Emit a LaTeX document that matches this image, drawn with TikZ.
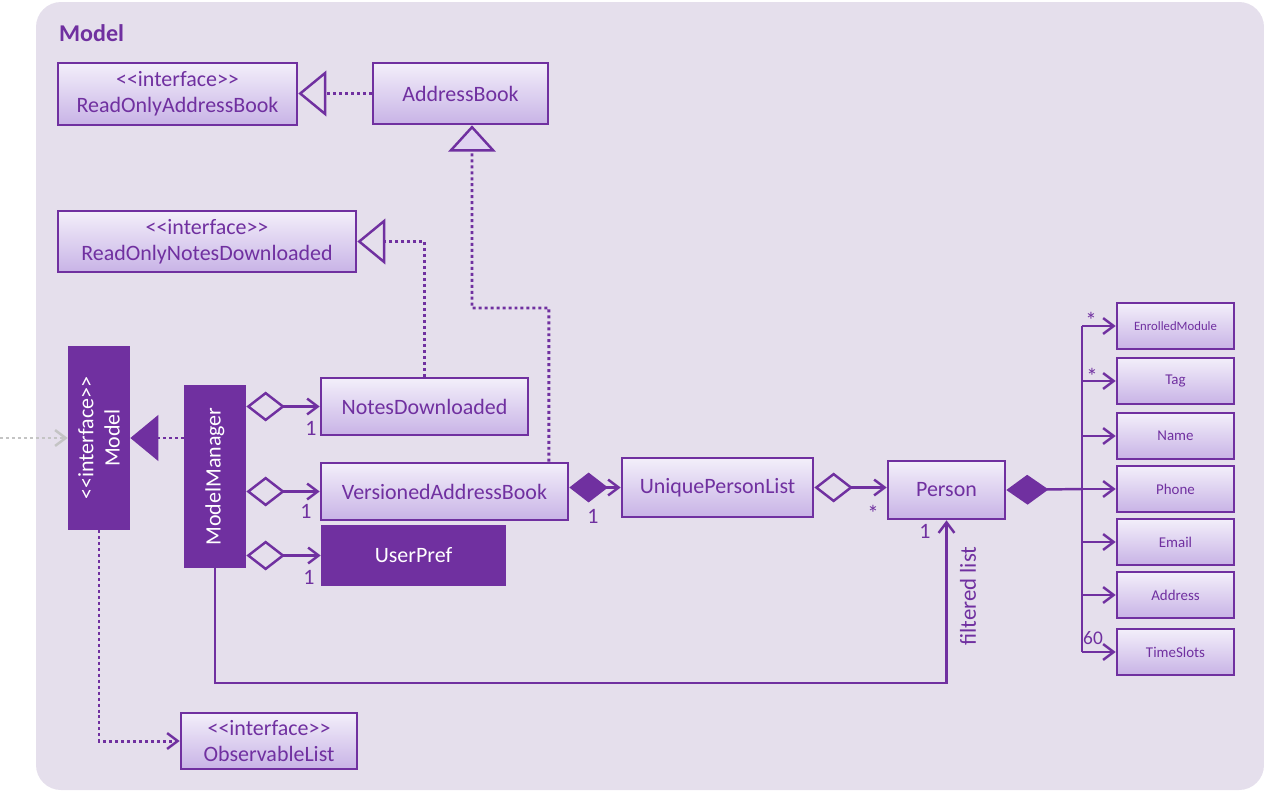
\documentclass[tikz,border=0pt]{standalone}
\usepackage{fontspec}
\setmainfont{Carlito}
\usepackage{tikz}
\usetikzlibrary{
    arrows.meta,
    calc
}
\definecolor{umlpurple}{HTML}{7030A0}
\definecolor{umlbg}{HTML}{E5DFEC}
\definecolor{boxtop}{HTML}{F3EFFA}
\definecolor{boxbottom}{HTML}{C8B3E6}
\definecolor{extgrey}{HTML}{C4C4C4}
\newcommand{\classfont}{\fontsize{12.5}{15}\selectfont}
\newcommand{\attrfont}{\fontsize{8.5}{10}\selectfont}
\newcommand{\stereo}[1]{<\kern0pt<#1>\kern0pt>}
\tikzset{
    classbox/.style={draw=umlpurple, line width=1.5pt, top color=boxtop, bottom color=boxbottom,
        text=umlpurple, font=\classfont, align=center, inner sep=0pt},
    darkbox/.style={draw=umlpurple, line width=1.5pt, fill=umlpurple, text=white,
        font=\classfont, align=center, inner sep=0pt},
    attrbox/.style={classbox, minimum width=2.34cm, minimum height=0.92cm, font=\attrfont},
    mult/.style={text=umlpurple, font=\classfont, inner sep=0pt},
    smallmult/.style={text=umlpurple, font=\fontsize{11}{12}\selectfont, inner sep=0pt},
    star/.style={text=umlpurple, font=\fontsize{13}{14}\selectfont, inner sep=0pt},
    link/.style={draw=umlpurple, line width=1.4pt},
    dotlink/.style={draw=umlpurple, line width=1.7pt, dash pattern=on 1.7pt off 1.7pt},
    barb/.tip={Straight Barb[length=6pt, width=9pt, line width=1.4pt]},
    realize/.style={dotlink, -{Triangle[open, length=16pt, width=26pt, line width=1.4pt]}},
    realizeab/.style={dotlink, -{Triangle[length=15pt, width=27pt, line width=1.4pt, fill=boxtop!55!boxbottom]}},
    realizefill/.style={dotlink, -{Triangle[length=16pt, width=26pt]}},
    deplink/.style={dotlink, -barb},
    extlink/.style={dotlink, draw=extgrey, -barb},
    assoc/.style={link, -barb},
    aggr/.style={link, {Diamond[open, length=22pt, width=17pt, line width=1.4pt]}-barb},
    compo/.style={link, {Diamond[length=22pt, width=17pt]}-barb},
    compobus/.style={link, {Diamond[length=24pt, width=17pt]}-}
}

\begin{document}
\begin{tikzpicture}[x=0.02cm, y=-0.02cm]
    \useasboundingbox (0,0) rectangle (1264,791);
    \fill[umlbg, rounded corners=0.5cm] (36,2) rectangle (1264,790);
    \node[anchor=west, text=umlpurple, font=\bfseries\fontsize{13.7}{16}\selectfont] (title) at (53,33) {Model};

    \node[classbox, minimum width=4.78cm, minimum height=1.24cm] (roab) at (177.5,94) {\stereo{interface}\\ReadOnlyAddressBook};
    \node[classbox, minimum width=3.5cm, minimum height=1.22cm] (addrbook) at (460.5,93.5) {AddressBook};
    \node[classbox, minimum width=5.96cm, minimum height=1.22cm] (rond) at (207,241.5) {\stereo{interface}\\ReadOnlyNotesDownloaded};
    \node[darkbox, minimum width=1.2cm, minimum height=3.64cm] (model) at (99,438) {};
    \node[rotate=90, text=white, font=\classfont, align=center] (modeltext) at (model.center) {\stereo{interface}\\Model};
    \node[darkbox, minimum width=1.2cm, minimum height=3.62cm] (manager) at (215,476.5) {};
    \node[rotate=90, text=white, font=\classfont] (managertext) at (manager.center) {ModelManager};
    \node[classbox, minimum width=4.14cm, minimum height=1.14cm] (notes) at (424.5,406.5) {NotesDownloaded};
    \node[classbox, minimum width=4.94cm, minimum height=1.14cm] (vab) at (444.5,491.5) {VersionedAddressBook};
    \node[darkbox, minimum width=3.66cm, minimum height=1.18cm] (userpref) at (413.5,555.5) {UserPref};
    \node[classbox, minimum width=3.82cm, minimum height=1.18cm] (upl) at (717.5,487.5) {UniquePersonList};
    \node[classbox, minimum width=2.34cm, minimum height=1.16cm] (person) at (946.5,490) {Person};
    \node[classbox, minimum width=3.52cm, minimum height=1.12cm] (obslist) at (269,741) {\stereo{interface}\\ObservableList};

    \node[attrbox, font=\fontsize{7.25}{9}\selectfont] (enrolled) at (1175.5,326) {EnrolledModule};
    \node[attrbox] (tag) at (1175.5,381) {Tag};
    \node[attrbox] (name) at (1175.5,436) {Name};
    \node[attrbox] (phone) at (1175.5,489) {Phone};
    \node[attrbox] (email) at (1175.5,542) {Email};
    \node[attrbox] (address) at (1175.5,595) {Address};
    \node[attrbox] (slots) at (1175.5,652) {TimeSlots};

    \coordinate (outside) at (0,438);
    \coordinate (bus) at (1082,489);
    \coordinate (turn) at (946.5,683);

    \draw[realize] (addrbook.west) -- (roab.east |- addrbook.west);
    \draw[realizeab] ([xshift=2.09cm]vab.north) |- (472,308) -- ([xshift=0.23cm]addrbook.south);
    \draw[realize] (notes.north) |- (rond.east);
    \draw[realizefill] (manager.west |- model.east) -- (model.east);
    \draw[extlink] (outside) -- (model.west);
    \draw[deplink] (model.south) |- (obslist.west);

    \draw[aggr] (manager.east |- notes.west) -- (notes.west);
    \draw[aggr] (manager.east |- vab.west) -- (vab.west);
    \draw[aggr] (manager.east |- userpref.west) -- (userpref.west);
    \draw[compo] (vab.east |- upl.west) -- (upl.west);
    \draw[aggr] (upl.east) -- (person.west |- upl.east);
    \draw[compobus] (person.east) -- (bus);
    \draw[assoc] (manager.south) |- (turn) -- (person.south);

    \draw[link] (bus |- enrolled.west) -- (bus |- slots.west);
    \draw[assoc] (bus |- enrolled.west) -- (enrolled.west);
    \draw[assoc] (bus |- tag.west) -- (tag.west);
    \draw[assoc] (bus |- name.west) -- (name.west);
    \draw[assoc] (bus |- phone.west) -- (phone.west);
    \draw[assoc] (bus |- email.west) -- (email.west);
    \draw[assoc] (bus |- address.west) -- (address.west);
    \draw[assoc] (bus |- slots.west) -- (slots.west);

    \node[mult] (mnotes) at (311,428) {1};
    \node[mult] (mvab) at (306,511) {1};
    \node[mult] (mpref) at (309,577) {1};
    \node[mult] (mupl) at (593,516) {1};
    \node[star] (mperson) at (873,513) {*};
    \node[mult] (mfilter) at (925,531) {1};
    \node[mult, rotate=90, font=\fontsize{13}{15}\selectfont] (filtered) at (968,596) {filtered list};
    \node[star] (menrolled) at (1091,320) {*};
    \node[star] (mtag) at (1092,376) {*};
    \node[smallmult] (mslots) at (1093,638) {60};
  \end{tikzpicture}
\end{document}
